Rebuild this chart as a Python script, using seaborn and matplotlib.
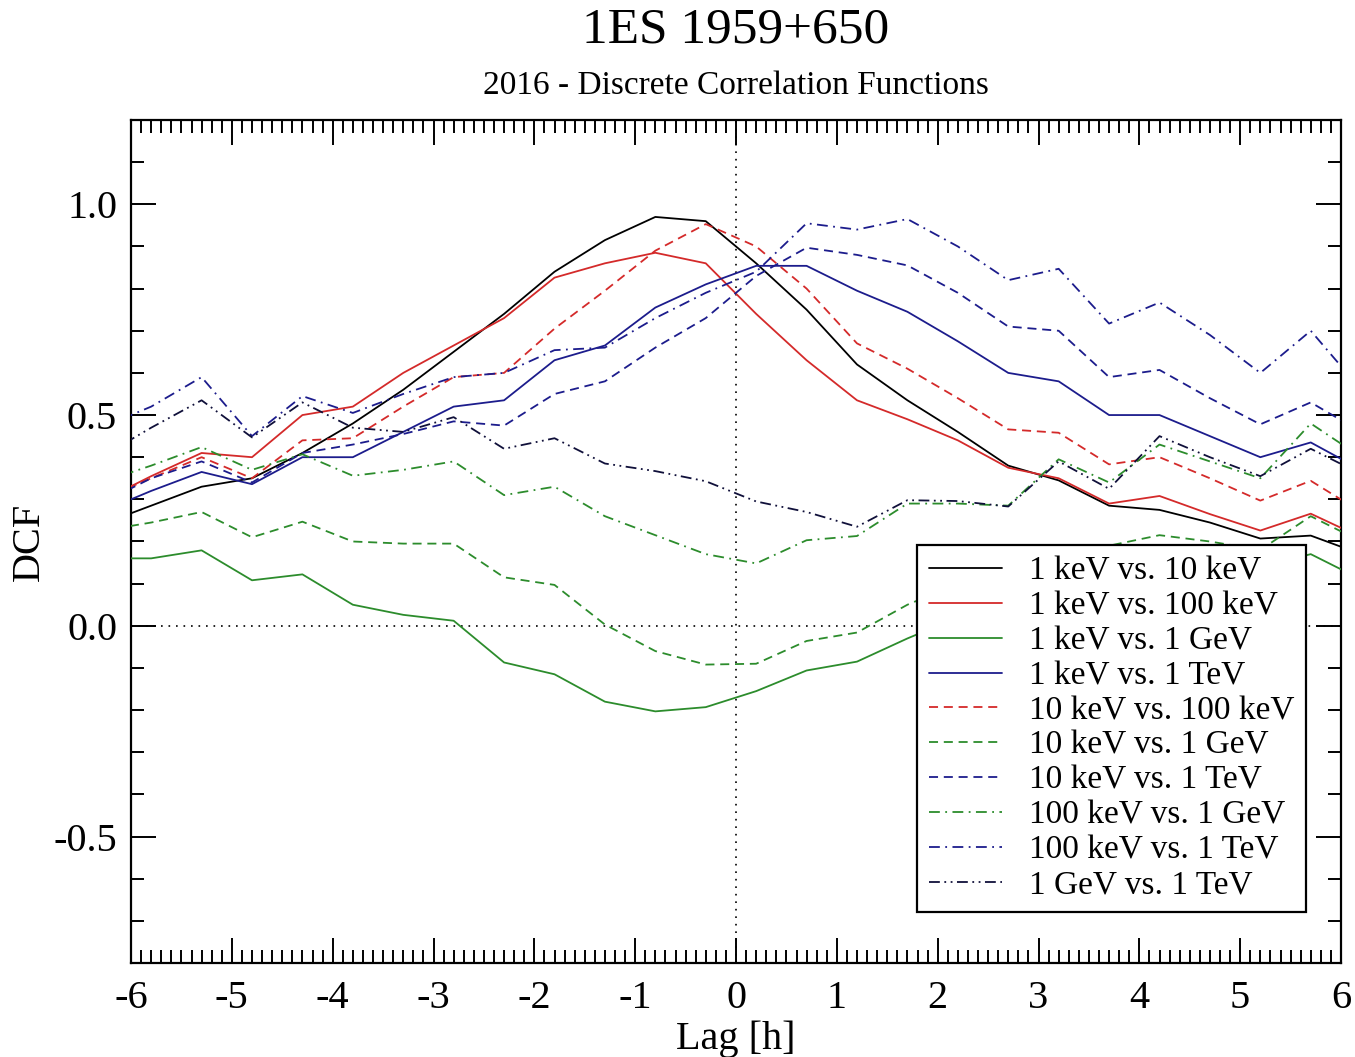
import numpy as np
import pandas as pd
import matplotlib
matplotlib.use("Agg")
import matplotlib.pyplot as plt
from matplotlib.ticker import MultipleLocator, FixedLocator
import seaborn as sns

# Time lags of the DCF bins [h]
lag = [-6.3, -5.8, -5.3, -4.8, -4.3, -3.8, -3.3, -2.8, -2.3, -1.8, -1.3, -0.8, -0.3,
       0.2, 0.7, 1.2, 1.7, 2.2, 2.7, 3.2, 3.7, 4.2, 4.7, 5.2, 5.7, 6.2]

# Discrete correlation function values for each band pair
dcf_1keV_10keV = [0.24, 0.285, 0.33, 0.35, 0.41, 0.48, 0.56, 0.65, 0.74, 0.84, 0.915, 0.97, 0.96,
                  0.86, 0.75, 0.62, 0.535, 0.46, 0.38, 0.345, 0.285, 0.275, 0.245, 0.207, 0.214, 0.17]
dcf_1keV_100keV = [0.295, 0.355, 0.41, 0.40, 0.50, 0.52, 0.60, 0.665, 0.73, 0.826, 0.86, 0.885, 0.86,
                   0.74, 0.63, 0.535, 0.49, 0.44, 0.375, 0.35, 0.29, 0.308, 0.265, 0.226, 0.266, 0.21]
dcf_1keV_1GeV = [0.16, 0.16, 0.179, 0.108, 0.122, 0.05, 0.026, 0.012, -0.087, -0.115, -0.18, -0.203, -0.193,
                 -0.155, -0.106, -0.085, -0.03, 0.02, 0.06, 0.10, 0.13, 0.15, 0.15, 0.14, 0.17, 0.11]
dcf_1keV_1TeV = [0.27, 0.32, 0.365, 0.336, 0.40, 0.40, 0.46, 0.52, 0.535, 0.63, 0.665, 0.755, 0.81,
                 0.854, 0.854, 0.795, 0.745, 0.675, 0.60, 0.58, 0.50, 0.50, 0.45, 0.40, 0.435, 0.37]
dcf_10keV_100keV = [0.30, 0.35, 0.40, 0.35, 0.44, 0.445, 0.52, 0.59, 0.60, 0.705, 0.795, 0.89, 0.953,
                    0.90, 0.80, 0.67, 0.61, 0.54, 0.466, 0.458, 0.383, 0.40, 0.35, 0.297, 0.344, 0.27]
dcf_10keV_1GeV = [0.225, 0.245, 0.27, 0.21, 0.247, 0.20, 0.195, 0.195, 0.115, 0.097, 0.003, -0.06, -0.092,
                  -0.09, -0.036, -0.016, 0.05, 0.10, 0.14, 0.17, 0.19, 0.215, 0.20, 0.18, 0.26, 0.20]
dcf_10keV_1TeV = [0.29, 0.35, 0.39, 0.34, 0.41, 0.43, 0.455, 0.485, 0.475, 0.55, 0.58, 0.66, 0.73,
                  0.83, 0.897, 0.88, 0.855, 0.79, 0.71, 0.70, 0.59, 0.607, 0.54, 0.478, 0.53, 0.46]
dcf_100keV_1GeV = [0.34, 0.38, 0.424, 0.37, 0.407, 0.356, 0.37, 0.39, 0.31, 0.33, 0.26, 0.215, 0.17,
                   0.148, 0.203, 0.213, 0.29, 0.29, 0.285, 0.395, 0.34, 0.43, 0.39, 0.35, 0.48, 0.40]
dcf_100keV_1TeV = [0.47, 0.52, 0.59, 0.45, 0.545, 0.505, 0.55, 0.59, 0.60, 0.654, 0.66, 0.73, 0.79,
                   0.84, 0.955, 0.94, 0.965, 0.90, 0.82, 0.847, 0.717, 0.767, 0.69, 0.60, 0.70, 0.56]
dcf_1GeV_1TeV = [0.40, 0.47, 0.535, 0.447, 0.53, 0.47, 0.46, 0.495, 0.42, 0.445, 0.385, 0.367, 0.343,
                 0.295, 0.27, 0.235, 0.298, 0.296, 0.283, 0.39, 0.325, 0.45, 0.40, 0.355, 0.42, 0.36]

labels = ["1 keV vs. 10 keV", "1 keV vs. 100 keV", "1 keV vs. 1 GeV", "1 keV vs. 1 TeV",
          "10 keV vs. 100 keV", "10 keV vs. 1 GeV", "10 keV vs. 1 TeV",
          "100 keV vs. 1 GeV", "100 keV vs. 1 TeV", "1 GeV vs. 1 TeV"]
series = [dcf_1keV_10keV, dcf_1keV_100keV, dcf_1keV_1GeV, dcf_1keV_1TeV,
          dcf_10keV_100keV, dcf_10keV_1GeV, dcf_10keV_1TeV,
          dcf_100keV_1GeV, dcf_100keV_1TeV, dcf_1GeV_1TeV]

BLACK, RED, GREEN, BLUE = "#000000", "#d42a2a", "#2c8c2c", "#1c1c8c"
colors = [BLACK, RED, GREEN, BLUE, RED, GREEN, BLUE, GREEN, BLUE, "#10103a"]
solid = None
dash = (5, 3.2)
dashdot = (6, 3, 1, 3)
dashdotdot = (6, 2.5, 1, 2.5, 1, 2.5)
styles = [solid, solid, solid, solid, dash, dash, dash, dashdot, dashdot, dashdotdot]

sns.set_style("white")
plt.rcParams["font.family"] = ["Liberation Serif", "DejaVu Serif"]
plt.rcParams["axes.unicode_minus"] = False
for key in ["text.color", "axes.labelcolor", "xtick.color", "ytick.color", "axes.edgecolor"]:
    plt.rcParams[key] = "black"

fig = plt.figure(figsize=(13.55, 10.57), dpi=100)
ax = fig.add_axes([131 / 1355, 1 - 963 / 1057, 1210 / 1355, 843 / 1057])

# Zero reference lines
ax.axhline(0, color="black", lw=1.2, ls=(0, (1, 3.5)), zorder=1)
ax.axvline(0, color="black", lw=1.2, ls=(0, (1, 3.5)), zorder=1)

for vals, lab, col, sty in zip(series, labels, colors, styles):
    df = pd.DataFrame({"lag": lag, "dcf": vals})
    kw = dict(color=col, lw=1.3, label=lab, zorder=3)
    if sty is not None:
        kw["dashes"] = sty
    sns.lineplot(data=df, x="lag", y="dcf", ax=ax, **kw)

ax.set_xlim(-6, 6)
ax.set_ylim(-0.8, 1.2)

ax.xaxis.set_major_locator(MultipleLocator(1))
ax.xaxis.set_minor_locator(MultipleLocator(0.1))
ax.yaxis.set_major_locator(FixedLocator([-0.5, 0.0, 0.5, 1.0]))
ax.yaxis.set_minor_locator(MultipleLocator(0.1))
ax.set_xticklabels([f"{int(v)}" for v in ax.get_xticks()])
ax.set_yticklabels(["-0.5", "0.0", "0.5", "1.0"])

ax.tick_params(which="both", direction="in", top=True, right=True, bottom=True, left=True,
               width=1.4, color="black")
ax.tick_params(which="major", length=18, labelsize=29, pad=10)
ax.tick_params(axis="x", which="major", pad=12)
ax.tick_params(which="minor", length=9.5)
for s in ax.spines.values():
    s.set_linewidth(1.6)
    s.set_color("black")

ax.set_xlabel("Lag [h]", fontsize=29, labelpad=3)
ax.set_ylabel("DCF", fontsize=29)
ax.yaxis.set_label_coords(-0.084, 0.5)
ax.yaxis.label.set_verticalalignment("center")

leg = ax.legend(loc="lower right", bbox_to_anchor=(0.971, 0.0605), borderaxespad=0,
                fontsize=24, frameon=True, fancybox=False, framealpha=1,
                edgecolor="black", handlelength=2.2, handletextpad=0.8,
                labelspacing=0.13, borderpad=0.35)
leg.get_frame().set_linewidth(1.6)

fig.text(736 / 1355, 1 - 30 / 1057, "1ES 1959+650", ha="center", va="center", fontsize=37)
fig.text(736 / 1355, 1 - 86 / 1057, "2016 - Discrete Correlation Functions", ha="center",
         va="center", fontsize=24)

fig.savefig("out.png", dpi=100, facecolor="white")
